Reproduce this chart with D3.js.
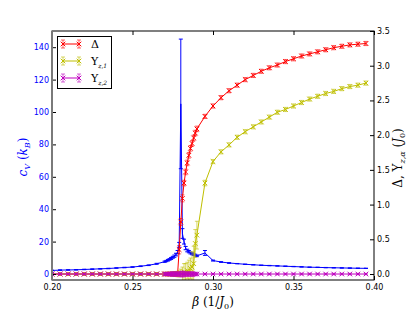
<!DOCTYPE html>
<html>
<head>
<meta charset="utf-8">
<title>cV and gaps vs beta</title>
<script src="https://cdn.jsdelivr.net/npm/d3@7"></script>
<style>
  body { margin: 0; background: #fff; }
  text { font-family: "DejaVu Sans", sans-serif; }
  .math { font-family: "DejaVu Serif", serif; }
</style>
</head>
<body>
<script>
// beta grid (1/J0)
var beta = [0.200, 0.205, 0.210, 0.215, 0.220, 0.225, 0.230, 0.235, 0.240, 0.245, 0.250, 0.255, 0.260, 0.265,
  0.270, 0.271, 0.272, 0.273, 0.274, 0.275, 0.276, 0.277, 0.278, 0.279, 0.280, 0.281, 0.282, 0.283, 0.284,
  0.285, 0.286, 0.287, 0.288, 0.289, 0.290,
  0.295, 0.300, 0.305, 0.310, 0.315, 0.320, 0.325, 0.330, 0.335, 0.340, 0.345, 0.350, 0.355, 0.360,
  0.365, 0.370, 0.375, 0.380, 0.385, 0.390, 0.395];

// specific heat c_V (k_B), left axis
var cV = [2.2, 2.4, 2.5, 2.6, 2.8, 3.0, 3.2, 3.4, 3.7, 4.0, 4.3, 4.8, 5.4, 6.3,
  7.6, 8.0, 8.5, 9.0, 9.6, 10.3, 11.0, 12.0, 13.5, 18.0, 105, 25, 20, 16, 14.5,
  13.8, 13.0, 12.5, 12.0, 11.7, 11.2,
  13.0, 8.3, 7.4, 6.8, 6.4, 6.0, 5.7, 5.4, 5.2, 5.0, 4.8, 4.6, 4.4, 4.2,
  4.1, 3.95, 3.85, 3.75, 3.65, 3.55, 3.5];
var cVerr = [0.15, 0.15, 0.15, 0.15, 0.15, 0.15, 0.15, 0.15, 0.15, 0.15, 0.15, 0.2, 0.2, 0.3,
  0.4, 0.4, 0.5, 0.5, 0.6, 0.6, 0.7, 0.8, 1.0, 1.5, 40, 3.0, 1.5, 1.0, 0.8,
  0.7, 0.6, 0.6, 0.5, 0.5, 0.5,
  1.5, 0.3, 0.2, 0.2, 0.1, 0.1, 0.1, 0.1, 0.1, 0.1, 0.1, 0.1, 0.1, 0.1,
  0.1, 0.1, 0.1, 0.1, 0.1, 0.1, 0.1];

// Delta (J0), right axis
var delta = [0, 0, 0, 0, 0, 0, 0, 0, 0, 0, 0, 0, 0, 0,
  0, 0, 0, 0, 0, 0, 0, 0, 0, 0.35, 0.75, 1.09, 1.31, 1.47, 1.60,
  1.71, 1.81, 1.88, 1.96, 2.03, 2.09,
  2.27, 2.42, 2.54, 2.64, 2.72, 2.80, 2.86, 2.92, 2.97, 3.01, 3.06, 3.10, 3.14, 3.17,
  3.20, 3.23, 3.26, 3.28, 3.30, 3.31, 3.32];
var deltaErr = [0.02, 0.02, 0.02, 0.02, 0.02, 0.02, 0.02, 0.02, 0.02, 0.02, 0.02, 0.02, 0.02, 0.02,
  0.02, 0.02, 0.02, 0.02, 0.02, 0.02, 0.02, 0.03, 0.03, 0.06, 0.05, 0.05, 0.04, 0.04, 0.04,
  0.04, 0.04, 0.04, 0.04, 0.04, 0.04,
  0.03, 0.03, 0.03, 0.03, 0.03, 0.03, 0.03, 0.03, 0.03, 0.03, 0.03, 0.03, 0.03, 0.03,
  0.03, 0.03, 0.03, 0.03, 0.03, 0.03, 0.03];

// Upsilon_{z,1} (J0), right axis
var ups1 = [0, 0, 0, 0, 0, 0, 0, 0, 0, 0, 0, 0, 0, 0,
  0, 0, 0, 0, 0, 0, 0, 0, 0, 0, 0.02, 0.0, 0.03, 0.0, 0.05,
  0.02, 0.08, 0.10, 0.15, 0.44, 0.56,
  1.31, 1.62, 1.76, 1.86, 1.97, 2.05, 2.12, 2.19, 2.26, 2.33, 2.37, 2.42, 2.47, 2.52,
  2.56, 2.60, 2.63, 2.67, 2.70, 2.72, 2.75];
var ups1Err = [0.02, 0.02, 0.02, 0.02, 0.02, 0.02, 0.02, 0.02, 0.02, 0.02, 0.02, 0.02, 0.02, 0.02,
  0.02, 0.02, 0.02, 0.02, 0.02, 0.03, 0.03, 0.03, 0.04, 0.04, 0.05, 0.10, 0.12, 0.15, 0.12,
  0.18, 0.15, 0.22, 0.25, 0.20, 0.20,
  0.04, 0.03, 0.03, 0.03, 0.03, 0.03, 0.03, 0.03, 0.03, 0.03, 0.03, 0.03, 0.03, 0.03,
  0.03, 0.03, 0.03, 0.03, 0.03, 0.03, 0.03];

// Upsilon_{z,2} (J0), right axis
var ups2 = [0, 0, 0, 0, 0, 0, 0, 0, 0, 0, 0, 0, 0, 0,
  0, 0, 0, 0, 0, 0, 0, 0, 0, 0, 0, 0, 0, 0, 0,
  0, 0, 0, 0, 0, 0,
  0, 0, 0, 0, 0, 0, 0, 0, 0, 0, 0, 0, 0, 0,
  0, 0, 0, 0, 0, 0, 0];
var ups2Err = [0.01, 0.01, 0.01, 0.01, 0.01, 0.01, 0.01, 0.01, 0.01, 0.01, 0.01, 0.01, 0.01, 0.01,
  0.02, 0.02, 0.02, 0.02, 0.03, 0.03, 0.03, 0.03, 0.03, 0.03, 0.04, 0.04, 0.04, 0.03, 0.03,
  0.03, 0.03, 0.03, 0.03, 0.02, 0.02,
  0.01, 0.01, 0.01, 0.01, 0.01, 0.01, 0.01, 0.01, 0.01, 0.01, 0.01, 0.01, 0.01, 0.01,
  0.01, 0.01, 0.01, 0.01, 0.01, 0.01, 0.01];

var xTicks = [0.20, 0.25, 0.30, 0.35, 0.40];
var yLeftTicks = [0, 20, 40, 60, 80, 100, 120, 140];
var yRightTicks = [0.0, 0.5, 1.0, 1.5, 2.0, 2.5, 3.0, 3.5];

var W = 415, H = 312;
var L = 52, R = 374, T = 31, B = 280;

var svg = d3.select("body").append("svg")
  .attr("width", W).attr("height", H);

var x = d3.scaleLinear().domain([0.2, 0.4]).range([L, R]);
var yL = d3.scaleLinear().domain([-3.7, 150]).range([B, T]);
var yR = d3.scaleLinear().domain([-0.086, 3.5]).range([B, T]);

svg.append("clipPath").attr("id", "clip")
  .append("rect").attr("x", L).attr("y", T).attr("width", R - L).attr("height", B - T);

var plot = svg.append("g").attr("clip-path", "url(#clip)");

// one errorbar series
function drawSeries(vals, errs, y, color, marker, barOpacity) {
  var pts = beta.map(function(b, i) { return [b, vals[i], errs[i]]; });
  var g = plot.append("g");
  // error bars
  pts.forEach(function(d) {
    var px = x(d[0]);
    g.append("line")
      .attr("x1", px).attr("x2", px)
      .attr("y1", y(d[1] - d[2])).attr("y2", y(d[1] + d[2]))
      .attr("stroke", color).attr("stroke-width", 1).attr("opacity", barOpacity);
    [d[1] - d[2], d[1] + d[2]].forEach(function(v) {
      g.append("line")
        .attr("x1", px - 2).attr("x2", px + 2)
        .attr("y1", y(v)).attr("y2", y(v))
        .attr("stroke", color).attr("stroke-width", 1).attr("opacity", barOpacity);
    });
  });
  g.append("path")
    .datum(pts)
    .attr("d", d3.line().x(function(d) { return x(d[0]); }).y(function(d) { return y(d[1]); }))
    .attr("fill", "none").attr("stroke", color).attr("stroke-width", 1);
  if (marker) {
    pts.forEach(function(d) {
      var px = x(d[0]), py = y(d[1]), s = 2.3;
      g.append("path")
        .attr("d", "M" + (px - s) + "," + (py - s) + "L" + (px + s) + "," + (py + s) +
                   "M" + (px - s) + "," + (py + s) + "L" + (px + s) + "," + (py - s))
        .attr("stroke", color).attr("stroke-width", 1);
    });
  }
}

drawSeries(cV, cVerr, yL, "#0000ff", false, 1);
drawSeries(delta, deltaErr, yR, "#ff0000", true, 0.6);
drawSeries(ups1, ups1Err, yR, "#bfbf00", true, 0.6);
drawSeries(ups2, ups2Err, yR, "#bf00bf", true, 0.6);

// axes, inward ticks
var axB = svg.append("g").attr("transform", "translate(0," + B + ")")
  .call(d3.axisBottom(x).tickValues(xTicks).tickFormat(d3.format(".2f")).tickSize(-4).tickPadding(4));
var axT = svg.append("g").attr("transform", "translate(0," + T + ")")
  .call(d3.axisTop(x).tickValues(xTicks).tickFormat("").tickSize(-4));
var axL = svg.append("g").attr("transform", "translate(" + L + ",0)")
  .call(d3.axisLeft(yL).tickValues(yLeftTicks).tickFormat(d3.format("d")).tickSize(-4).tickPadding(3));
var axR = svg.append("g").attr("transform", "translate(" + R + ",0)")
  .call(d3.axisRight(yR).tickValues(yRightTicks).tickFormat(d3.format(".1f")).tickSize(-4).tickPadding(3));

[axB, axT, axL, axR].forEach(function(a) {
  a.select(".domain").remove();
  a.selectAll("text").attr("font-size", 8).attr("font-family", "DejaVu Sans, sans-serif").attr("fill", "#000");
  a.selectAll("line").attr("stroke", "#000");
});
axL.selectAll("text").attr("fill", "#0000ff");

// frame
svg.append("rect").attr("x", L).attr("y", T).attr("width", R - L).attr("height", B - T)
  .attr("fill", "none").attr("stroke", "#000").attr("stroke-width", 1);
svg.append("line").attr("x1", L).attr("x2", L).attr("y1", T).attr("y2", B)
  .attr("stroke", "#7a7a7a").attr("stroke-width", 2);

// axis labels
var xl = svg.append("text").attr("class", "math").attr("x", (L + R) / 2).attr("y", 306)
  .attr("text-anchor", "middle").attr("font-size", 12);
xl.append("tspan").attr("font-style", "italic").text("β");
xl.append("tspan").text(" (1/");
xl.append("tspan").attr("font-style", "italic").text("J");
xl.append("tspan").attr("font-size", 8).attr("dy", 3).text("0");
xl.append("tspan").attr("dy", -3).text(")");

var yl = svg.append("text").attr("class", "math").attr("transform", "translate(27,157) rotate(-90)")
  .attr("text-anchor", "middle").attr("font-size", 12).attr("fill", "#0000ff");
yl.append("tspan").attr("font-style", "italic").text("c");
yl.append("tspan").attr("font-style", "italic").attr("font-size", 8).attr("dy", 3).text("V");
yl.append("tspan").attr("dy", -3).text(" (");
yl.append("tspan").attr("font-style", "italic").text("k");
yl.append("tspan").attr("font-style", "italic").attr("font-size", 8).attr("dy", 3).text("B");
yl.append("tspan").attr("dy", -3).text(")");

var yr = svg.append("text").attr("class", "math").attr("transform", "translate(402,158) rotate(-90)")
  .attr("text-anchor", "middle").attr("font-size", 12).attr("fill", "#000");
yr.append("tspan").text("Δ, Υ");
yr.append("tspan").attr("font-style", "italic").attr("font-size", 8).attr("dy", 3).text("z,α");
yr.append("tspan").attr("dy", -3).text(" (");
yr.append("tspan").attr("font-style", "italic").text("J");
yr.append("tspan").attr("font-size", 8).attr("dy", 3).text("0");
yr.append("tspan").attr("dy", -3).text(")");

// legend
var legendNames = [["Δ", ""], ["Υ", "z,1"], ["Υ", "z,2"]];
var legendColors = ["#ff0000", "#bfbf00", "#bf00bf"];
var lg = svg.append("g");
lg.append("rect").attr("x", 57.5).attr("y", 36.5).attr("width", 54).attr("height", 52)
  .attr("fill", "#fff").attr("stroke", "#000").attr("stroke-width", 1);
legendNames.forEach(function(n, i) {
  var cy = 44 + i * 17, c = legendColors[i];
  lg.append("line").attr("x1", 63).attr("x2", 79).attr("y1", cy).attr("y2", cy)
    .attr("stroke", c).attr("stroke-width", 1);
  [63, 79].forEach(function(px) {
    lg.append("line").attr("x1", px).attr("x2", px).attr("y1", cy - 4).attr("y2", cy + 4)
      .attr("stroke", c).attr("opacity", 0.6);
    [cy - 4, cy + 4].forEach(function(py) {
      lg.append("line").attr("x1", px - 2).attr("x2", px + 2).attr("y1", py).attr("y2", py)
        .attr("stroke", c).attr("opacity", 0.6);
    });
    var s = 2.3;
    lg.append("path")
      .attr("d", "M" + (px - s) + "," + (cy - s) + "L" + (px + s) + "," + (cy + s) +
                 "M" + (px - s) + "," + (cy + s) + "L" + (px + s) + "," + (cy - s))
      .attr("stroke", c);
  });
  var t = lg.append("text").attr("class", "math").attr("x", 91).attr("y", cy + 4).attr("font-size", 11);
  t.append("tspan").text(n[0]);
  if (n[1]) t.append("tspan").attr("font-style", "italic").attr("font-size", 6).attr("dy", 3).text(n[1]);
});
</script>
</body>
</html>
